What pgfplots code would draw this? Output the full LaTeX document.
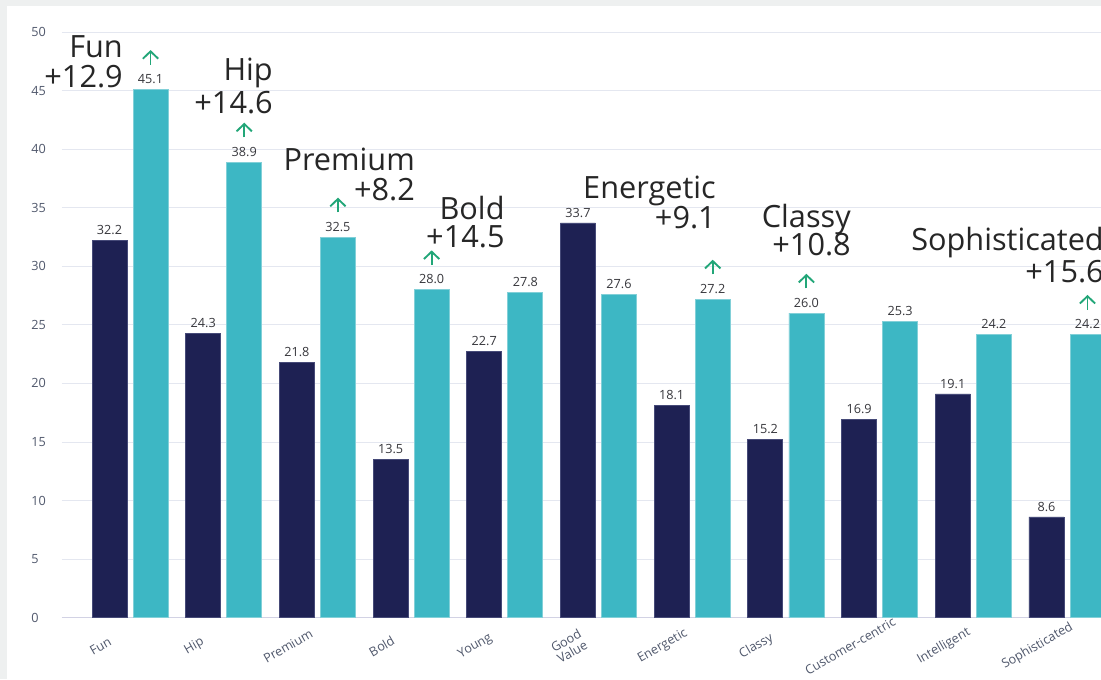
\documentclass[border=0pt]{standalone}
\usepackage{pgfplots}
\pgfplotsset{compat=1.18}
\usepackage{pgfplotstable}
\usepackage{fontspec}
\setmainfont{Open Sans}
\usetikzlibrary{arrows.meta}

\definecolor{navy}{RGB}{30,33,83}
\definecolor{navyedge}{RGB}{70,74,120}
\definecolor{teal}{RGB}{61,183,196}
\definecolor{tealedge}{RGB}{130,208,216}
\definecolor{arrgreen}{RGB}{34,166,120}
\definecolor{anncol}{RGB}{38,38,38}
\definecolor{valcol}{RGB}{55,55,60}
\definecolor{tickcol}{RGB}{80,88,108}
\definecolor{gridcol}{RGB}{228,231,240}
\definecolor{basecol}{RGB}{210,210,228}
\definecolor{bggrey}{RGB}{238,240,240}

\pgfplotstableread{
x dark teal
0 32.2 45.1
1 24.3 38.9
2 21.8 32.5
3 13.5 28.0
4 22.7 27.8
5 33.7 27.6
6 18.1 27.2
7 15.2 26.0
8 16.9 25.3
9 19.1 24.2
10 8.6 24.2
}\datatable

\begin{document}
\begin{tikzpicture}[
  ann/.style={anchor=base east, inner sep=0pt, font=\fontsize{23}{23}\selectfont, text=anncol},
  arr/.style={arrgreen, line width=1.4pt, -{Straight Barb[length=5.5pt,width=11.5pt]}}
]
\useasboundingbox (-46.5pt,-46pt) rectangle (779.25pt,463.3pt);
\fill[bggrey] (-46.5pt,-46pt) rectangle (779.25pt,463.3pt);
\fill[white] (-41.25pt,-46pt) rectangle (779.25pt,458.8pt);
\begin{scope}
\clip (-46.5pt,-46pt) rectangle (779.25pt,463.3pt);
\begin{axis}[
  at={(0pt,0pt)}, anchor=south west,
  scale only axis, width=779.25pt, height=439.3pt,
  xmin=-0.726, xmax=10.363, ymin=0, ymax=50,
  enlargelimits=false, clip=false,
  axis line style={draw=none},
  major tick length=0pt,
  tick style={draw=none},
  ymajorgrids, grid style={gridcol, line width=0.75pt},
  ytick={0,5,...,50},
  xtick={0,...,10},
  xticklabels={Fun,Hip,Premium,Bold,Young,{Good\\Value},Energetic,Classy,Customer-centric,Intelligent,Sophisticated},
  /pgf/number format/assume math mode=true,
  yticklabel style={anchor=west, xshift=-23.25pt, inner sep=0pt, font=\fontsize{9.5}{11}\selectfont, text=tickcol},
  xticklabel style={xshift=-22.1pt, yshift=-21.4pt, rotate=30, anchor=center, align=center, font=\fontsize{9.5}{9.5}\selectfont, text=tickcol},
]
\draw[basecol, line width=0.75pt] (rel axis cs:0,0) -- (rel axis cs:1,0);

\addplot[ybar, bar width=0.3735, bar shift=0, fill=navy, draw=navyedge, line width=0.6pt,
  point meta=explicit,
  nodes near coords={\pgfmathprintnumber[fixed,fixed zerofill,precision=1]{\pgfplotspointmeta}},
  every node near coord/.append style={anchor=south, yshift=4pt, inner sep=0pt, font=\fontsize{9.5}{11}\selectfont, text=valcol}]
  table[x expr=\thisrow{x}-0.219, y=dark, meta=dark]{\datatable};

\addplot[ybar, bar width=0.3735, bar shift=0, fill=teal, draw=tealedge, line width=0.6pt,
  point meta=explicit,
  nodes near coords={\pgfmathprintnumber[fixed,fixed zerofill,precision=1]{\pgfplotspointmeta}},
  every node near coord/.append style={anchor=south, yshift=4pt, inner sep=0pt, font=\fontsize{9.5}{11}\selectfont, text=valcol}]
  table[x expr=\thisrow{x}+0.219, y=teal, meta=teal]{\datatable};

% arrows above highlighted teal bars
\draw[arr] ([yshift=18.5pt]axis cs:0.219,45.1) -- ([yshift=29.5pt]axis cs:0.219,45.1);
\draw[arr] ([yshift=18.5pt]axis cs:1.219,38.9) -- ([yshift=29.5pt]axis cs:1.219,38.9);
\draw[arr] ([yshift=18.5pt]axis cs:2.219,32.5) -- ([yshift=29.5pt]axis cs:2.219,32.5);
\draw[arr] ([yshift=18.5pt]axis cs:3.219,28.0) -- ([yshift=29.5pt]axis cs:3.219,28.0);
\draw[arr] ([yshift=18.5pt]axis cs:6.219,27.2) -- ([yshift=29.5pt]axis cs:6.219,27.2);
\draw[arr] ([yshift=18.5pt]axis cs:7.219,26.0) -- ([yshift=29.5pt]axis cs:7.219,26.0);
\draw[arr] ([yshift=18.5pt]axis cs:10.219,24.2) -- ([yshift=29.5pt]axis cs:10.219,24.2);

% annotations
\node[ann] at (axis cs:-0.075,47.82) {Fun};
\node[ann] at (axis cs:-0.075,45.26) {+12.9};
\node[ann] at (axis cs:1.526,45.86) {Hip};
\node[ann] at (axis cs:1.526,43.04) {+14.6};
\node[ann] at (axis cs:3.042,38.17) {Premium};
\node[ann] at (axis cs:3.042,35.61) {+8.2};
\node[ann] at (axis cs:4.00,33.99) {Bold};
\node[ann] at (axis cs:4.00,31.60) {+14.5};
\node[ann] at (axis cs:6.254,35.78) {Energetic};
\node[ann] at (axis cs:6.254,33.22) {+9.1};
\node[ann] at (axis cs:7.695,33.30) {Classy};
\node[ann] at (axis cs:7.695,30.91) {+10.8};
\node[ann] at (axis cs:10.395,31.34) {Sophisticated};
\node[ann] at (axis cs:10.395,28.61) {+15.6};
\end{axis}
\end{scope}
\end{tikzpicture}
\end{document}
